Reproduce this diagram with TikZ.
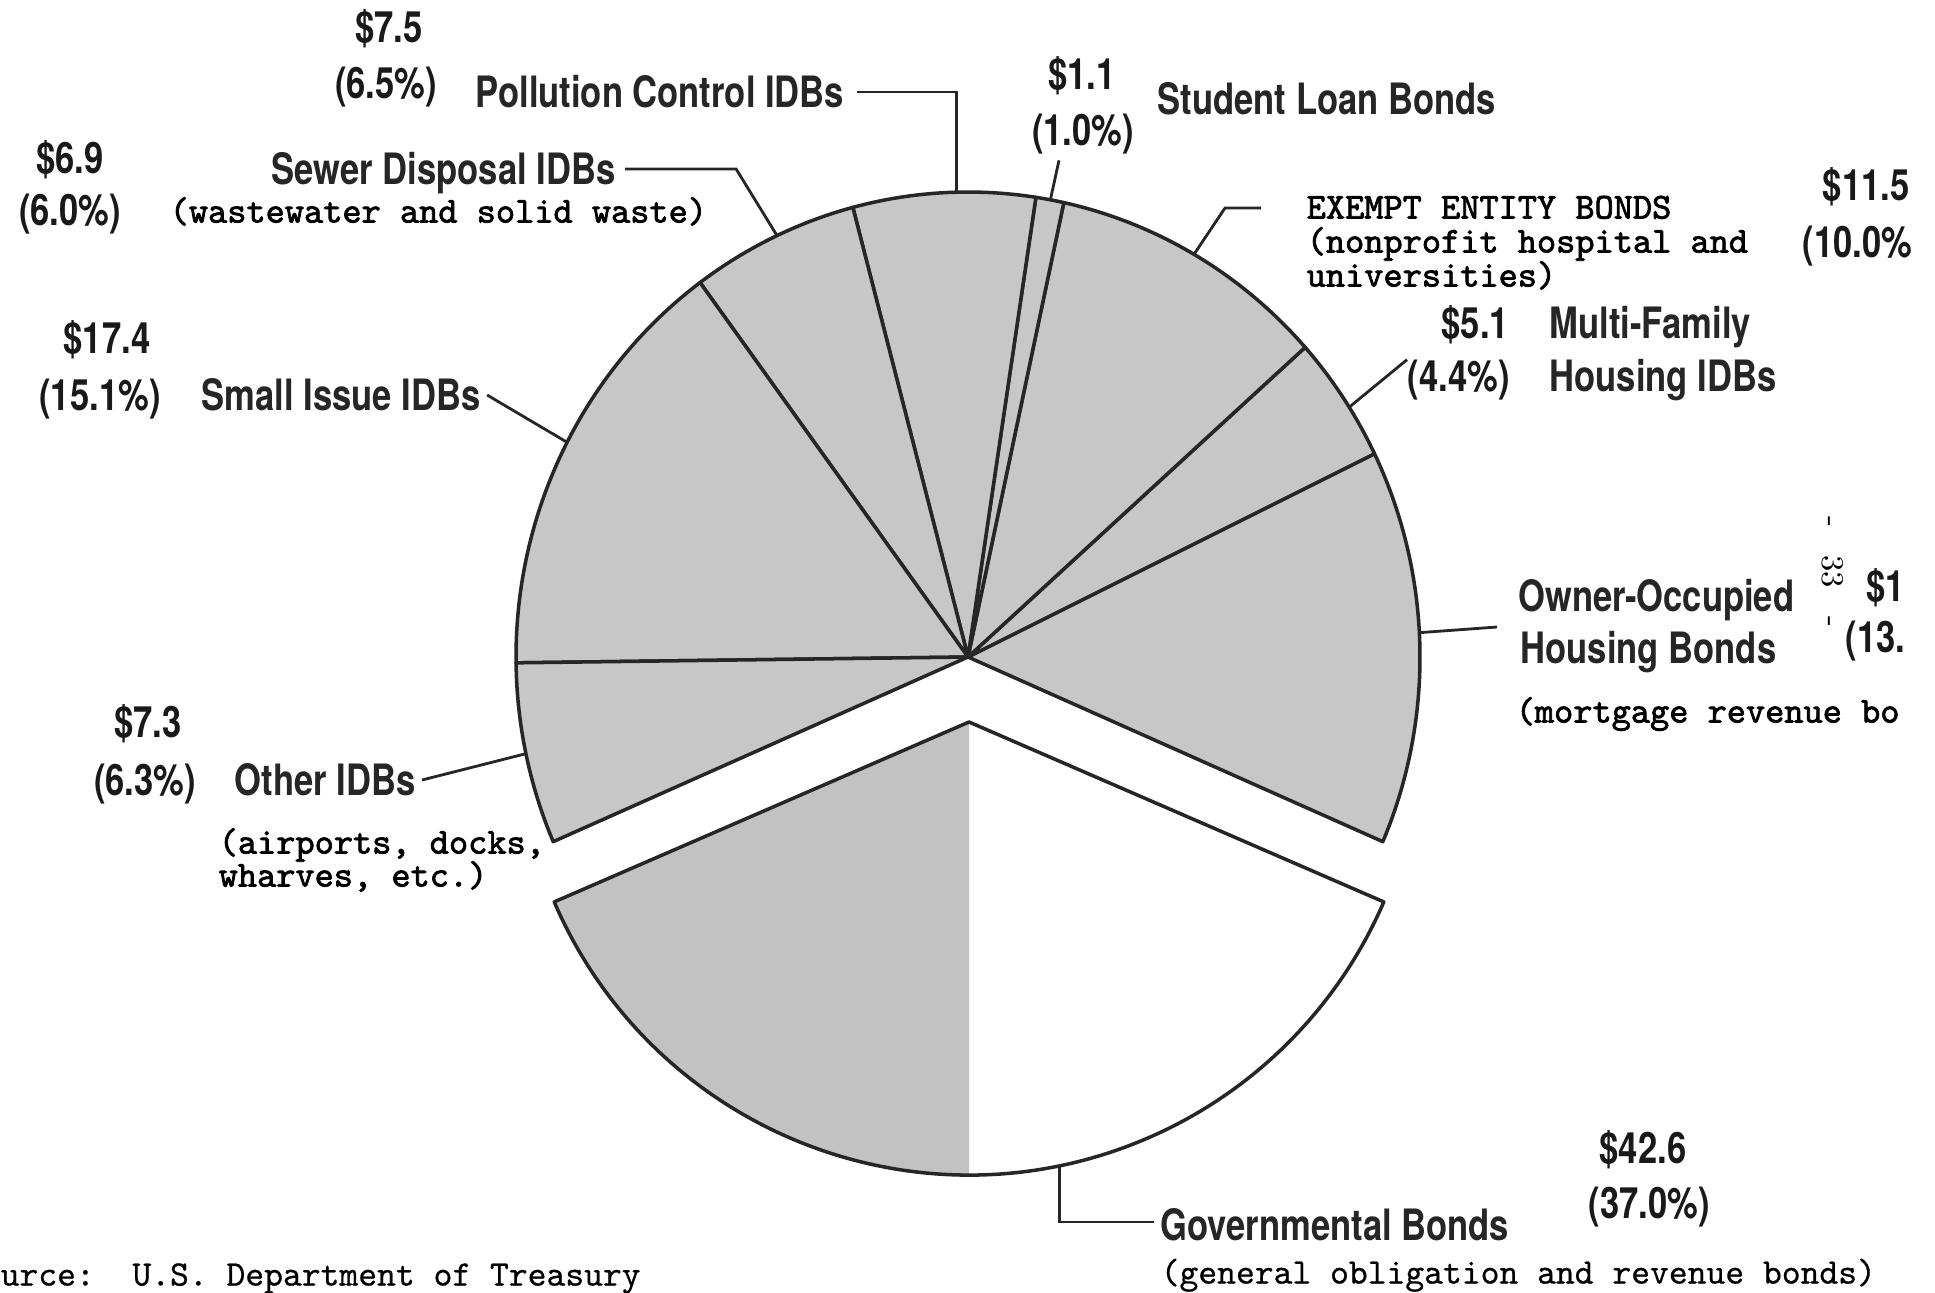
\documentclass[tikz,border=0pt]{standalone}
\usepackage{fontspec}
\newfontfamily\labfont{TeX Gyre Heros}[FakeStretch=0.8]
\newfontfamily\typefont{lmmono10-regular.otf}[FakeBold=2]
\newfontfamily\plainfont{lmmono10-regular.otf}[FakeBold=0.6]
\usepackage{tikz}
\usetikzlibrary{calc}
\usetikzlibrary{positioning}
\tikzset{leader/.style={line width=0.8pt, black!85}}
\tikzstyle{slice} = [draw=black!85, line width=1pt, line join=round, fill=black!22]
\tikzstyle{lab} = [inner sep=0pt, text height=8.9pt, text depth=0pt, text=black!85, font=\labfont\bfseries\fontsize{12.3}{14}\selectfont]
\tikzstyle{amount} = [inner sep=0pt, text height=8.9pt, text depth=0pt, text=black!90, font=\labfont\bfseries\fontsize{12.3}{14}\selectfont]
\tikzstyle{typed} = [inner sep=0pt, text height=6pt, text depth=0pt, font=\typefont\fontsize{10.4}{12}\selectfont]
\tikzstyle{plain} = [inner sep=0pt, text height=6pt, text depth=0pt, font=\plainfont\fontsize{10.2}{12}\selectfont]

\begin{document}
\begin{tikzpicture}
  \useasboundingbox (0,0) rectangle (19.35,12.92);
  \coordinate (c) at (9.68,6.35);
  \coordinate (g) at (9.69,5.70);

  % main pie
  \draw[slice] (c) -- ++(-23.4:4.52 and 4.65) arc[start angle=-23.4, end angle=25.92,  x radius=4.52, y radius=4.65] -- cycle;
  \draw[slice] (c) -- ++(25.92:4.52 and 4.65) arc[start angle=25.92, end angle=41.76,  x radius=4.52, y radius=4.65] -- cycle;
  \draw[slice] (c) -- ++(41.76:4.52 and 4.65) arc[start angle=41.76, end angle=77.76,  x radius=4.52, y radius=4.65] -- cycle;
  \draw[slice] (c) -- ++(77.76:4.52 and 4.65) arc[start angle=77.76, end angle=81.36,  x radius=4.52, y radius=4.65] -- cycle;
  \draw[slice] (c) -- ++(81.36:4.52 and 4.65) arc[start angle=81.36, end angle=104.76, x radius=4.52, y radius=4.65] -- cycle;
  \draw[slice] (c) -- ++(104.76:4.52 and 4.65) arc[start angle=104.76, end angle=126.36, x radius=4.52, y radius=4.65] -- cycle;
  \draw[slice] (c) -- ++(126.36:4.52 and 4.65) arc[start angle=126.36, end angle=180.72, x radius=4.52, y radius=4.65] -- cycle;
  \draw[slice] (c) -- ++(180.72:4.52 and 4.65) arc[start angle=180.72, end angle=203.4, x radius=4.52, y radius=4.65] -- cycle;

  % governmental bonds, pulled out
  \fill[black!24] (g) -- ++(203.4:4.52 and 4.53) arc[start angle=203.4, end angle=270, x radius=4.52, y radius=4.53] -- cycle;
  \draw[slice, fill=none] (g) -- ++(203.4:4.52 and 4.53) arc[start angle=203.4, end angle=336.6, x radius=4.52, y radius=4.53] -- cycle;

  \path (c) ++(91.5:4.52 and 4.65)  coordinate (pollpt);
  \path (c) ++(115:4.52 and 4.65)   coordinate (sewpt);
  \path (c) ++(79.5:4.52 and 4.65)  coordinate (stpt);
  \path (c) ++(60:4.52 and 4.65)    coordinate (expt);
  \path (c) ++(32.5:4.52 and 4.65)  coordinate (mfpt);
  \path (c) ++(3:4.52 and 4.65)     coordinate (ownpt);
  \path (c) ++(152.5:4.52 and 4.65) coordinate (smpt);
  \path (c) ++(192:4.52 and 4.65)   coordinate (othpt);
  \path (g) ++(281.5:4.52 and 4.53) coordinate (govpt);

  \node [amount] (pollamt) at (3.89,12.65) {\$7.5};
  \node [amount] (pollpct) at (3.86,12.09) {(6.5\%)};
  \node [lab, anchor=west] (poll) at (4.75,12.00) {Pollution Control IDBs};

  \node [amount] (stamt) at (10.82,12.18) {\$1.1};
  \node [amount] (stpct) at (10.83,11.62) {(1.0\%)};
  \node [lab, anchor=west] (student) at (11.57,11.93) {Student Loan Bonds};

  \node [amount] (sewamt) at (0.70,11.34) {\$6.9};
  \node [amount] (sewpct) at (0.70,10.82) {(6.0\%)};
  \node [lab, anchor=west] (sewer) at (2.71,11.23) {Sewer Disposal IDBs};
  \node [typed, anchor=west] (sewnote) at (1.69,10.80) {(wastewater and solid waste)};

  \node [typed, anchor=west] (exempt) at (13.06,10.84) {EXEMPT ENTITY BONDS};
  \node [typed, anchor=west] (exnote1) at (13.06,10.50) {(nonprofit hospital and};
  \node [typed, anchor=west] (exnote2) at (13.06,10.16) {universities)};
  \node [amount, anchor=east] (examt) at (19.10,11.07) {\$11.5};
  \node [amount, anchor=east] (expct) at (19.13,10.50) {(10.0\%};

  \node [amount, anchor=west] (mfamt) at (14.41,9.69) {\$5.1};
  \node [lab, anchor=west] (mf) at (15.49,9.69) {Multi-Family};
  \node [amount, anchor=west] (mfpct) at (14.07,9.16) {(4.4\%)};
  \node [lab, anchor=west] (mf2) at (15.49,9.16) {Housing IDBs};

  \node [amount] (smamt) at (1.07,9.54) {\$17.4};
  \node [amount] (smpct) at (1.00,8.97) {(15.1\%)};
  \node [lab, anchor=west] (small) at (2.01,8.97) {Small Issue IDBs};

  \node [lab, anchor=west] (owner) at (15.18,6.96) {Owner-Occupied};
  \node [lab, anchor=west] (owner2) at (15.20,6.44) {Housing Bonds};
  \node [rotate=-90, inner sep=0pt, font=\fontsize{9}{9}\selectfont] (page) at (18.33,7.20) {-\hspace{8pt}33\hspace{8pt}-};
  \node [amount, anchor=west] (ownamt) at (18.66,7.06) {\$1};
  \node [amount, anchor=west] (ownpct) at (18.45,6.55) {(13.};
  \node [typed, anchor=west] (ownnote) at (15.15,5.80) {(mortgage revenue bo};

  \node [amount] (othamt) at (1.48,5.70) {\$7.3};
  \node [amount] (othpct) at (1.45,5.12) {(6.3\%)};
  \node [lab, anchor=west] (other) at (2.34,5.12) {Other IDBs};
  \node [typed, anchor=west] (othnote1) at (2.18,4.49) {(airports, docks,};
  \node [typed, anchor=west] (othnote2) at (2.18,4.16) {wharves, etc.)};

  \node [amount] (govamt) at (16.43,1.44) {\$42.6};
  \node [amount] (govpct) at (16.49,0.89) {(37.0\%)};
  \node [lab, anchor=west] (gov) at (11.60,0.67) {Governmental Bonds};
  \node [plain, anchor=west] (govnote) at (11.60,0.19) {(general obligation and revenue bonds)};

  \node [plain, anchor=west] (source) at (0,0.17) {urce:\ \ U.S. Department of Treasury};

  % leaders
  \draw [leader] ([xshift=0.12cm]poll.east) -| (pollpt);
  \draw [leader] ([xshift=0.09cm]sewer.east) -- ++(1.11,0) -- (sewpt);
  \draw [leader] ([xshift=-0.24cm,yshift=-0.14cm]stpct.south) -- (stpt);
  \draw [leader] ([xshift=-0.45cm]exempt.west) -- ++(-0.36,0) -- (expt);
  \draw [leader] (mfpct.north west) -- (mfpt);
  \draw [leader] (ownpt) -- ([xshift=-0.21cm,yshift=-0.31cm]owner.west);
  \draw [leader] ([xshift=0.06cm]small.east) -- (smpt);
  \draw [leader] ([xshift=0.06cm]other.east) -- (othpt);
  \draw [leader] (govpt) |- ([xshift=-0.06cm,yshift=0.03cm]gov.west);
\end{tikzpicture}
\end{document}
